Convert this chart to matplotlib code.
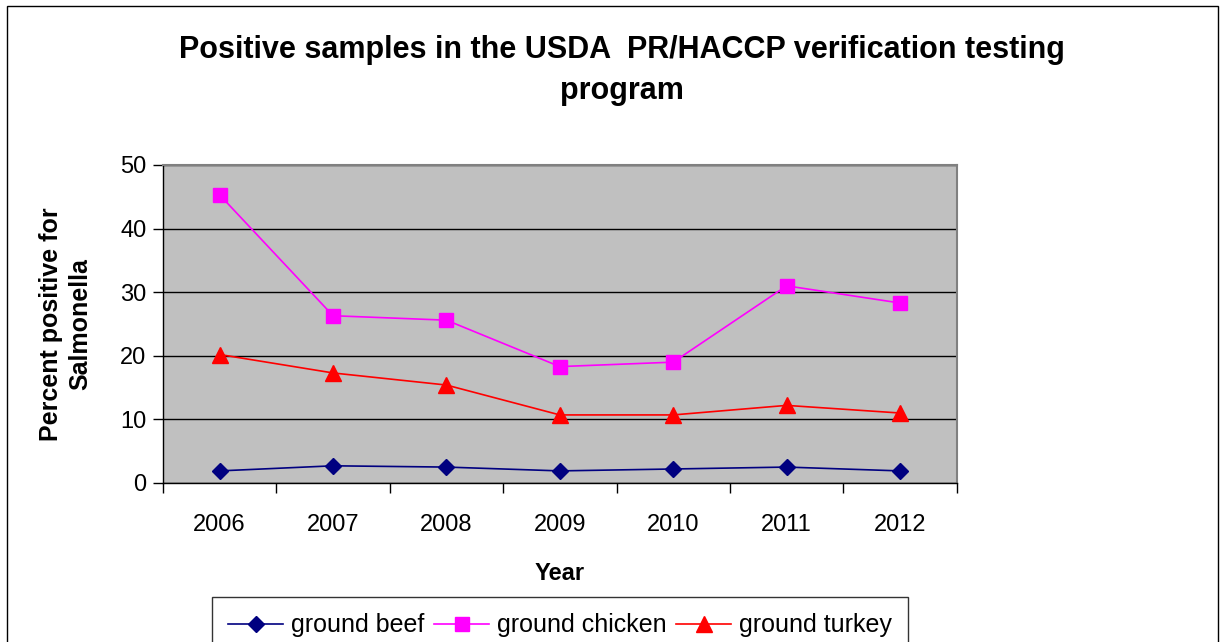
import matplotlib.pyplot as plt
import matplotlib.patches as mpatches
import numpy as np

# data
years = ["2006", "2007", "2008", "2009", "2010", "2011", "2012"]
beef = [1.9, 2.7, 2.5, 1.9, 2.2, 2.5, 1.9]
chicken = [45.3, 26.3, 25.6, 18.3, 19.0, 31.0, 28.3]
turkey = [20.2, 17.3, 15.4, 10.7, 10.7, 12.2, 11.0]

plt.rcParams["font.family"] = ["Liberation Sans", "DejaVu Sans"]

fig = plt.figure(figsize=(12.25, 6.42), dpi=100)
ax = fig.add_axes([0.133, 0.2477, 0.648, 0.4953])
ax.set_facecolor("#c0c0c0")

x = np.arange(len(years))
ax.plot(x, beef, color="#000080", marker="D", markersize=8, lw=1.2, label="ground beef")
ax.plot(x, chicken, color="#ff00ff", marker="s", markersize=10, lw=1.2, label="ground chicken")
ax.plot(x, turkey, color="#ff0000", marker="^", markersize=11, lw=1.2, label="ground turkey")

# axes setup
ax.set_xlim(-0.5, len(years) - 0.5)
ax.set_ylim(0, 50)
ax.set_yticks([0, 10, 20, 30, 40, 50])
ax.yaxis.grid(True, color="black", lw=1)
ax.set_axisbelow(True)
ax.set_xticks(x)
ax.set_xticklabels(years)
ax.set_xticks(np.arange(-0.5, len(years)), minor=True)
ax.tick_params(axis="x", which="major", length=0, pad=22, labelsize=17)
ax.tick_params(axis="x", which="minor", length=7, width=1, direction="out")
ax.tick_params(axis="y", length=7, width=1, direction="out", pad=5, labelsize=17)
for s in ["top", "right"]:
    ax.spines[s].set_color("#808080")
    ax.spines[s].set_linewidth(1.5)
for s in ["left", "bottom"]:
    ax.spines[s].set_color("black")
    ax.spines[s].set_linewidth(1)

ax.set_xlabel("Year", fontsize=17, fontweight="bold", labelpad=19)
ax.set_ylabel("Percent positive for\nSalmonella", fontsize=18, fontweight="bold", labelpad=20,
              linespacing=1.25)

fig.text(0.508, 0.8905, "Positive samples in the USDA  PR/HACCP verification testing\nprogram",
         ha="center", va="center", fontsize=22, fontweight="bold", linespacing=1.5)

ax.legend(loc="upper center", bbox_to_anchor=(0.5, -0.32), ncol=3, fontsize=18,
          frameon=True, fancybox=False, edgecolor="black", handlelength=2.2,
          handletextpad=0.3, columnspacing=0.4, borderpad=0.65)

# outer chart frame
fig.patches.append(mpatches.Rectangle((0.006, -0.05), 0.988, 1.04, transform=fig.transFigure,
                                      fill=False, edgecolor="black", lw=1))

fig.savefig("out.png", dpi=100)
